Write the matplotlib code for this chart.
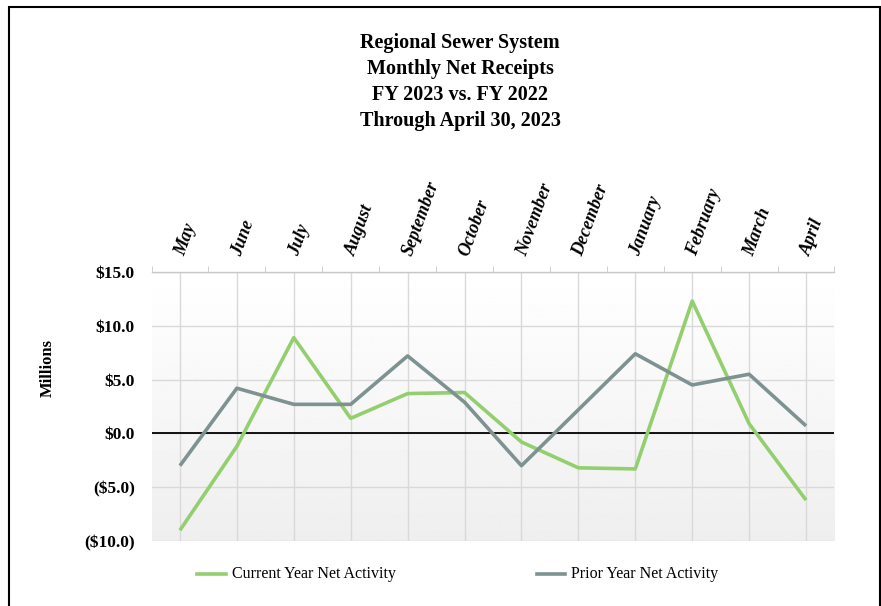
import numpy as np
import matplotlib
matplotlib.use('Agg')
import matplotlib.pyplot as plt
from matplotlib.patches import Rectangle
from matplotlib.lines import Line2D

# Data (millions)
months = ['May', 'June', 'July', 'August', 'September', 'October',
          'November', 'December', 'January', 'February', 'March', 'April']
current = [-9.0, -1.2, 8.9, 1.4, 3.7, 3.8, -0.8, -3.2, -3.3, 12.3, 0.9, -6.2]
prior = [-3.0, 4.2, 2.7, 2.7, 7.2, 2.9, -3.0, 2.2, 7.4, 4.5, 5.5, 0.7]
yticks = [-10, -5, 0, 5, 10, 15]

title = ('Regional Sewer System\nMonthly Net Receipts\n'
         'FY 2023 vs. FY 2022\nThrough April 30, 2023')

green = '#93cf6e'
gray = '#7f9292'
serif = ['Liberation Serif', 'DejaVu Serif']


def money(v):
    if v < 0:
        return '($%.1f)' % abs(v)
    return '$%.1f' % v


fig = plt.figure(figsize=(8.81, 6.06), dpi=100)
ax = fig.add_axes([151.5/881, 1 - 541/606, 683/881, 269/606])

x = np.arange(len(months))
ax.set_xlim(-0.5, len(months) - 0.5)
ax.set_ylim(-10, 15)

# gradient background of the plot area
grad = np.linspace(1.0, 0.935, 200).reshape(-1, 1)
ax.imshow(grad, cmap='gray', vmin=0, vmax=1, aspect='auto',
          extent=(-0.5, len(months) - 0.5, -10, 15), zorder=0)

for v in yticks:
    ax.axhline(v, color='#d9d9d9', lw=1, zorder=1)
for xi in x:
    ax.axvline(xi, color='#d9d9d9', lw=1, zorder=1)
ax.axhline(0, color='black', lw=1.3, zorder=2)

ax.plot(x, current, color=green, lw=2.6, zorder=3, solid_capstyle='butt')
ax.plot(x, prior, color=gray, lw=2.6, zorder=3, solid_capstyle='butt')

# axes styling
for s in ['left', 'right', 'bottom']:
    ax.spines[s].set_visible(False)
ax.spines['top'].set_color('#c8c8c8')
ax.spines['top'].set_linewidth(1)

ax.xaxis.tick_top()
ax.set_xticks(x)
ax.set_xticklabels(months, rotation=70, ha='left', va='center',
                   rotation_mode='anchor', fontsize=13,
                   fontweight='bold', fontstyle='italic', family=serif)
ax.tick_params(axis='x', which='major', length=0, pad=12)
ax.set_xticks(np.arange(-0.5, len(months)), minor=True)
ax.tick_params(axis='x', which='minor', direction='out', length=4.5,
               color='#c8c8c8', top=True, bottom=False)

ax.set_yticks(yticks)
ax.set_yticklabels([money(v) for v in yticks], fontsize=12.5,
                   fontweight='bold', family=serif)
ax.tick_params(axis='y', length=0, pad=12)

fig.text(48/881, 1 - 368/606, 'Millions', rotation=90, ha='center',
         va='center', fontsize=12, fontweight='bold', family=serif)

fig.text(460/881, 1 - 82/606, title, ha='center', va='center',
         fontsize=14.5, fontweight='bold', family=serif, linespacing=1.4)

# legend
leg_y = 1 - 574/606
fig.add_artist(Line2D([197/881, 226/881], [leg_y, leg_y], color=green, lw=2.6))
fig.text(232/881, leg_y, 'Current Year Net Activity', ha='left', va='center',
         fontsize=11.5, family=serif)
fig.add_artist(Line2D([537/881, 565/881], [leg_y, leg_y], color=gray, lw=2.6))
fig.text(571/881, leg_y, 'Prior Year Net Activity', ha='left', va='center',
         fontsize=11.5, family=serif)

# outer frame
fig.patches.append(Rectangle((9/881, -0.05), 871/881, 1.05 - 7/606,
                             transform=fig.transFigure, fill=False,
                             edgecolor='black', lw=1.5))

fig.savefig('out.png', dpi=100)
